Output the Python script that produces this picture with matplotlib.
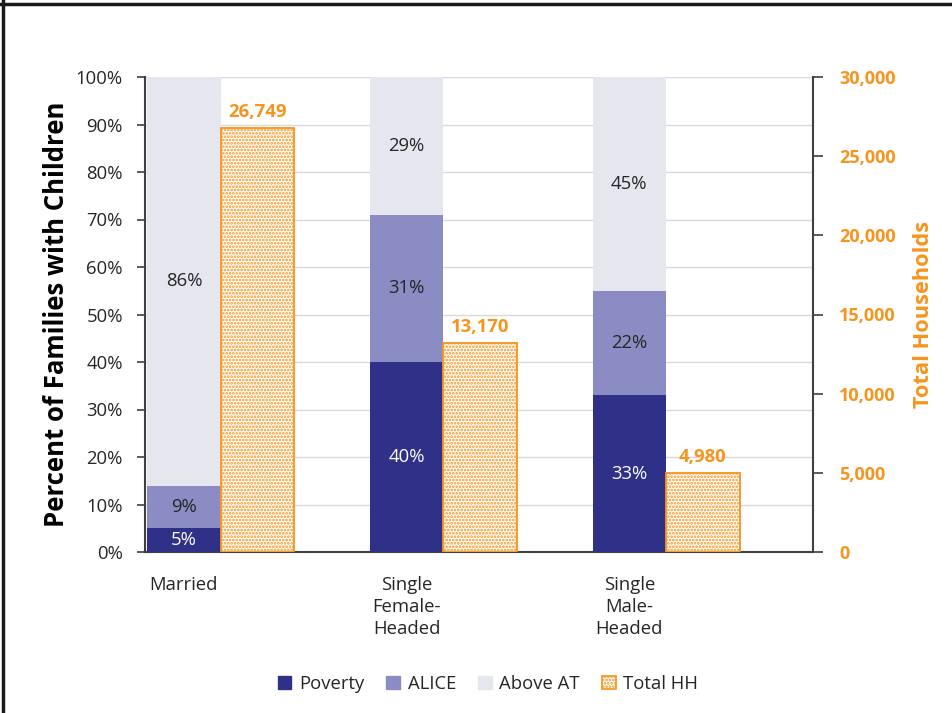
import matplotlib
matplotlib.use("Agg")
import matplotlib.pyplot as plt
from matplotlib.patches import Patch
from matplotlib.lines import Line2D
import numpy as np

plt.rcParams['font.family'] = ['Open Sans', 'DejaVu Sans']
plt.rcParams['hatch.linewidth'] = 1.3

categories = ["Married", "Single\nFemale-\nHeaded", "Single\nMale-\nHeaded"]
poverty = [5, 40, 33]
alice = [9, 31, 22]
above_at = [86, 29, 45]
total_hh = [26749, 13170, 4980]

c_pov = "#2E3187"
c_alice = "#8A8CC3"
c_above = "#E6E6EE"
c_orange = "#F7941D"
c_text = "#262626"
c_axis = "#404040"

fig = plt.figure(figsize=(9.53, 7.13), dpi=100)
ax = fig.add_axes([145/953, 1-552/713, (813-145)/953, (552-77)/713])
ax2 = ax.twinx()

x = np.arange(len(categories))
w = 0.33
xs = x - 0.325
xh = x + 0.005

fs = 13.3

ax.bar(xs, poverty, w, color=c_pov, zorder=3)
ax.bar(xs, alice, w, bottom=poverty, color=c_alice, zorder=3)
bot3 = [p + a for p, a in zip(poverty, alice)]
ax.bar(xs, above_at, w, bottom=bot3, color=c_above, zorder=3)

for i in range(len(categories)):
    ax.text(xs[i], poverty[i]/2, f"{poverty[i]}%", ha='center', va='center', color='white', fontsize=fs, zorder=5)
    ax.text(xs[i], poverty[i] + alice[i]/2, f"{alice[i]}%", ha='center', va='center', color=c_text, fontsize=fs, zorder=5)
    ax.text(xs[i], bot3[i] + above_at[i]/2, f"{above_at[i]}%", ha='center', va='center', color=c_text, fontsize=fs, zorder=5)

ax2.bar(xh, total_hh, w, facecolor='white', edgecolor=c_orange, hatch='.....', linewidth=1.3, zorder=3)
for i in range(len(categories)):
    ax2.text(xh[i], total_hh[i] + 450, f"{total_hh[i]:,}", ha='center', va='bottom', color=c_orange, fontsize=13.3, fontweight='bold')

ax.set_xlim(-0.5, 2.5)
ax.set_ylim(0, 100)
ax2.set_ylim(0, 30000)

ax.set_yticks(np.arange(0, 101, 10))
ax.set_yticklabels([f"{v}%" for v in range(0, 101, 10)], fontsize=fs, color=c_text)
ax.yaxis.grid(True, color='#D9D9D9', linewidth=1, zorder=0)
ax.set_axisbelow(True)
ax.tick_params(axis='y', length=6, width=1.2, color=c_axis, pad=10, direction='out')

ax.set_xticks(xs)
ax.set_xticklabels(categories, fontsize=fs, color=c_text, linespacing=1.3)
ax.tick_params(axis='x', length=0, pad=17)

ax2.set_yticks(np.arange(0, 30001, 5000))
ax2.set_yticklabels([f"{v:,}" for v in range(0, 30001, 5000)], fontsize=13, color=c_orange, fontweight='bold')
ax2.tick_params(axis='y', length=7, width=1.2, color=c_axis, pad=12, direction='out')

for a in (ax, ax2):
    for s in a.spines.values():
        s.set_visible(False)
ax2.spines['right'].set_visible(True)
ax2.spines['right'].set_color(c_axis)
ax2.spines['right'].set_linewidth(1.5)
ax.spines['left'].set_visible(True)
ax.spines['left'].set_color(c_axis)
ax.spines['left'].set_linewidth(1.5)
ax.spines['bottom'].set_visible(True)
ax.spines['bottom'].set_color(c_axis)
ax.spines['bottom'].set_linewidth(1.5)

ax.set_ylabel("Percent of Families with Children", fontsize=18.5, fontweight='bold', color='black', labelpad=4)
ax2.set_ylabel("Total Households", fontsize=15.7, fontweight='bold', color=c_orange, labelpad=12)

handles = [
    Patch(facecolor=c_pov, edgecolor=c_pov),
    Patch(facecolor=c_alice, edgecolor=c_alice),
    Patch(facecolor=c_above, edgecolor=c_above),
    Patch(facecolor='white', edgecolor=c_orange, hatch='.....', linewidth=1.2),
]
labels = ["Poverty", "ALICE", "Above AT", "Total HH"]
fig.legend(handles, labels, loc='center', bbox_to_anchor=(488/953, 1-684/713), ncol=4, frameon=False,
           fontsize=fs, handlelength=0.75, handleheight=0.75, handletextpad=0.4, columnspacing=1.2,
           labelcolor=c_text)

# outer frame (top and left edges)
fig.add_artist(Line2D([0, 1], [1-3.5/713, 1-3.5/713], transform=fig.transFigure, color='#1a1a1a', linewidth=2.5))
fig.add_artist(Line2D([3.5/953, 3.5/953], [0, 1], transform=fig.transFigure, color='#1a1a1a', linewidth=2.5))

fig.savefig("out.png", dpi=100)
